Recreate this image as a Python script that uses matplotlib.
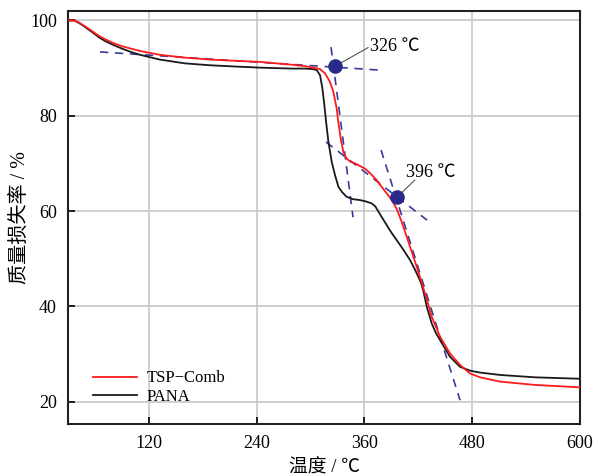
import matplotlib
matplotlib.use("Agg")
import matplotlib.pyplot as plt

# ---- data ----
tsp_x = [30, 37, 42, 47, 52, 58, 65, 72, 80, 90, 100, 110, 121, 132, 160, 188, 220, 244, 280, 294,
         303, 310.6, 316.1, 321.7, 325.4, 329.1, 330.9, 333.6, 336.5, 340.2, 344, 349.5, 360.6, 366,
         373.7, 377.4, 384.8, 388.5, 392, 396, 401.5, 407.1, 412, 418.2, 423, 427.4, 434.9, 444.2,
         455.3, 466.4, 477.6, 488.7, 511, 550, 600]
tsp_y = [100, 100, 99.6, 99.0, 98.4, 97.6, 96.7, 96.0, 95.3, 94.6, 94.1, 93.6, 93.2, 92.8, 92.2, 91.8,
         91.5, 91.3, 90.7, 90.4, 90.1, 89.8, 88.9, 87.1, 85.0, 81.5, 78.7, 75.2, 72.4, 71.0, 70.4, 70.0,
         68.9, 68.0, 66.5, 65.5, 63.7, 62.8, 61.8, 60.4, 57.7, 54.6, 51.8, 48.3, 45.4, 42.7, 37.8, 33.6,
         30.1, 27.7, 25.9, 25.1, 24.2, 23.5, 23.0]

pana_x = [30, 37, 42, 47, 52, 58, 65, 72, 80, 90, 100, 110, 121, 132, 160, 188, 220, 244, 280, 294,
          302, 306.9, 310.6, 313.2, 315.4, 317.3, 319.9, 323.6, 327.3, 331, 335, 340.2, 347, 355.1, 362,
          368.1, 372, 375.5, 379, 383, 388.5, 394, 399.6, 405, 410.8, 416, 420, 423, 425.6, 429.4, 434.9,
          439, 444.2, 455.3, 466.4, 477.6, 488.7, 511, 550, 600]
pana_y = [100, 100, 99.5, 98.9, 98.2, 97.4, 96.4, 95.6, 94.9, 94.1, 93.4, 92.8, 92.3, 91.8, 91.0, 90.6,
          90.3, 90.1, 89.9, 89.9, 89.8, 89.6, 88.5, 85.7, 82.2, 78.7, 74.5, 70.3, 67.5, 65.1, 64.0, 63.0,
          62.5, 62.3, 62.0, 61.6, 61.0, 59.9, 58.8, 57.6, 55.9, 54.4, 52.9, 51.4, 49.7, 47.8, 46.2, 44.9,
          43.2, 39.9, 36.4, 34.6, 32.9, 29.4, 27.3, 26.5, 26.1, 25.6, 25.1, 24.8]

# tangent lines (endpoints) and onset points
tan1_x = [65.6, 376]
tan1_y = [93.4, 89.6]
tan2_x = [322.8, 347.3]
tan2_y = [94.4, 58.7]
tan3_x = [317.2, 429.7]
tan3_y = [74.5, 58.1]
tan4_x = [378.5, 466.4]
tan4_y = [72.8, 20.3]

onset_x = [327.3, 396.3]
onset_y = [90.4, 62.9]
onset_labels = ["326 ℃", "396 ℃"]
label_pos = [(366, 94.6), (406, 68.0)]
leader_end = [(364, 94.3), (416, 66.5)]

xticks = [120, 240, 360, 480, 600]
yticks = [20, 40, 60, 80, 100]

serif = ['Liberation Serif', 'Noto Sans CJK SC', 'DejaVu Sans']
plt.rcParams['font.family'] = serif

fig = plt.figure(figsize=(5.98, 4.76), dpi=100)
ax = fig.add_axes([0.1137, 0.1092, 0.8563, 0.8678])

ax.grid(True, color='#c8c8c8', lw=1.2)
ax.set_axisbelow(True)

dash_col = '#3a3a9e'
for tx, ty in [(tan1_x, tan1_y), (tan2_x, tan2_y), (tan3_x, tan3_y), (tan4_x, tan4_y)]:
    ax.plot(tx, ty, ls=(0, (5, 4)), color=dash_col, lw=1.2, zorder=2)

ax.plot(pana_x, pana_y, color='#1a1a1a', lw=1.3, label='PANA', zorder=3)
ax.plot(tsp_x, tsp_y, color='#ff1a1a', lw=1.3, label='TSP−Comb', zorder=4)

ax.scatter(onset_x, onset_y, s=90, color='#2a2a8c', zorder=5)
for (px, py), lab, (tx, ty), (lx, ly) in zip(zip(onset_x, onset_y), onset_labels, label_pos, leader_end):
    ax.plot([px, lx], [py, ly], color='#555555', lw=0.8, zorder=4)
    ax.text(tx, ty, lab, fontsize=13, va='center', ha='left', family=serif)

ax.set_xlim(30, 600)
ax.set_ylim(15.3, 102)
ax.set_xticks(xticks)
ax.set_yticks(yticks)
ax.tick_params(direction='in', length=5, width=1.2, labelsize=13, pad=8)
for s in ax.spines.values():
    s.set_linewidth(1.5)
    s.set_color('#222222')

ax.set_xlabel('温度 / ℃', fontsize=13.5, family=serif, labelpad=5)
ax.set_ylabel('质量损失率 / %', fontsize=14.5, family=serif, labelpad=0)

h, l = ax.get_legend_handles_labels()
ax.legend(h[::-1], l[::-1], loc='lower left', bbox_to_anchor=(0.02, 0.01), frameon=False,
          fontsize=12, handlelength=2.6, labelspacing=0.15, handletextpad=0.6)

fig.savefig('out.png', dpi=100)
